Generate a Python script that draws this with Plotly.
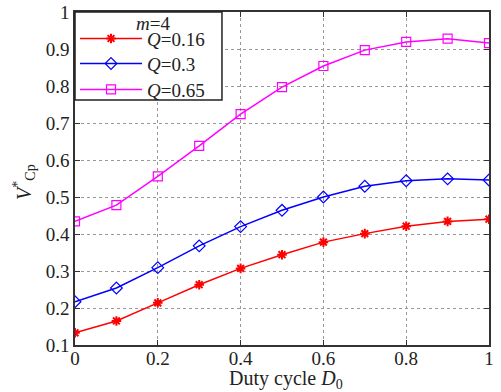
import plotly.graph_objects as go

duty = [0, 0.1, 0.2, 0.3, 0.4, 0.5, 0.6, 0.7, 0.8, 0.9, 1.0]
q016 = [0.133, 0.165, 0.214, 0.263, 0.307, 0.344, 0.378, 0.401, 0.421, 0.434, 0.440]
q030 = [0.217, 0.254, 0.309, 0.368, 0.420, 0.464, 0.500, 0.529, 0.544, 0.549, 0.546]
q065 = [0.434, 0.478, 0.556, 0.638, 0.724, 0.797, 0.854, 0.897, 0.919, 0.928, 0.916]
names = ["<i>Q</i>=0.16", "<i>Q</i>=0.3", "<i>Q</i>=0.65"]
legend_title = "<i>m</i>=4"
xticks = [0, 0.2, 0.4, 0.6, 0.8, 1]
xticklabels = ["0", "0.2", "0.4", "0.6", "0.8", "1"]
yticks = [0.1, 0.2, 0.3, 0.4, 0.5, 0.6, 0.7, 0.8, 0.9, 1.0]
yticklabels = ["0.1", "0.2", "0.3", "0.4", "0.5", "0.6", "0.7", "0.8", "0.9", "1"]

FONT = "Liberation Serif, Times New Roman, serif"
TXT = "#222222"

fig = go.Figure()
fig.add_trace(go.Scatter(x=duty, y=q016, name=names[0], mode="lines+markers",
                         line=dict(color="#ff0000", width=1.5),
                         marker=dict(symbol="asterisk-open", size=8, color="#ff0000",
                                     line=dict(color="#ff0000", width=2))))
fig.add_trace(go.Scatter(x=duty, y=q030, name=names[1], mode="lines+markers", legend="legend2",
                         line=dict(color="#0000ff", width=1.5),
                         marker=dict(symbol="diamond-open", size=9, color="#0000ff",
                                     line=dict(color="#0000ff", width=1.2))))
fig.add_trace(go.Scatter(x=duty, y=q065, name=names[2], mode="lines+markers", legend="legend3",
                         line=dict(color="#ff00ff", width=1.5),
                         marker=dict(symbol="square-open", size=9, color="#ff00ff",
                                     line=dict(color="#ff00ff", width=1.2))))

axis_common = dict(showline=True, linecolor="#333333", linewidth=1.5, mirror="ticks",
                   ticks="inside", ticklen=5, tickcolor="#333333", automargin=False,
                   showgrid=True, gridcolor="#999999", griddash="dot", gridwidth=1,
                   zeroline=False, tickfont=dict(family=FONT, size=19, color=TXT))

fig.update_xaxes(range=[0, 1], tickvals=xticks, ticktext=xticklabels,
                 ticklabelstandoff=-5, **axis_common)
fig.update_yaxes(range=[0.1, 1.0], tickvals=yticks, ticktext=yticklabels, **axis_common)

def leg(yc):
    return dict(x=0.0, y=yc, xanchor="left", yanchor="middle",
                bgcolor="rgba(0,0,0,0)", borderwidth=0,
                font=dict(family=FONT, size=19, color=TXT), itemwidth=62)

fig.update_layout(
    width=501, height=392,
    margin=dict(l=75, r=12, t=12, b=47),
    paper_bgcolor="white", plot_bgcolor="white",
    font=dict(family=FONT, color=TXT),
    showlegend=True,
    legend=leg(0.92), legend2=leg(0.845), legend3=leg(0.767),
    shapes=[dict(type="rect", xref="paper", yref="paper", x0=0, x1=0.355, y0=0.736, y1=1,
                 fillcolor="white", line=dict(color="#222222", width=1.5), layer="above")],
    annotations=[
        dict(text=legend_title, xref="paper", yref="paper",
             x=0.188, y=0.965, xanchor="center", yanchor="middle",
             showarrow=False, font=dict(family=FONT, size=19, color=TXT)),
        dict(text="Duty cycle <i>D</i><sub>0</sub>", xref="paper", yref="paper",
             x=0.51, y=-0.103, xanchor="center", yanchor="middle",
             showarrow=False, font=dict(family=FONT, size=20, color=TXT)),
        dict(text="<i>V</i><sup>*</sup><sub>Cp</sub>", xref="paper", yref="paper",
             x=-0.123, y=0.49, xanchor="center", yanchor="middle", textangle=-90,
             showarrow=False, font=dict(family=FONT, size=20, color=TXT)),
    ],
)

fig.write_html("out.html")
